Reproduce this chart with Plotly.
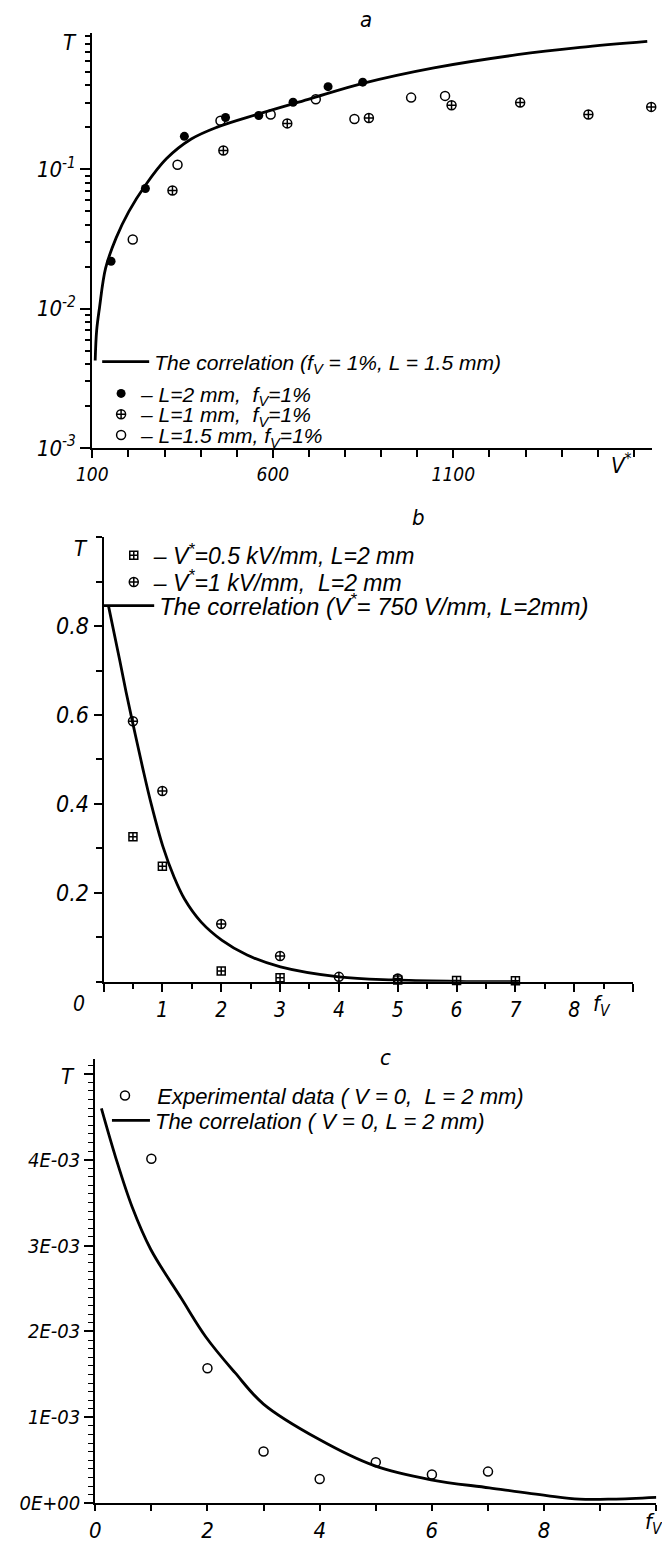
import plotly.graph_objects as go

W, H = 670, 1553
OFF = 8  # default body margin of the html page
FW, FH = W - OFF, H - OFF

# ---- panel a : T vs V* (log scale)
a_fill_v = [152, 247, 355, 469, 561, 656, 753, 849]
a_fill_t = [0.0219, 0.0728, 0.1725, 0.2355, 0.2437, 0.303, 0.392, 0.4226]
a_plus_v = [322, 463, 640, 866, 1095, 1285, 1474, 1648]
a_plus_t = [0.0705, 0.1365, 0.2137, 0.2333, 0.2884, 0.3013, 0.2477, 0.2806]
a_open_v = [212, 336, 455, 594, 719, 826, 983, 1077]
a_open_t = [0.0314, 0.108, 0.2234, 0.2477, 0.3185, 0.2296, 0.3273, 0.3366]
a_corr_v = [108, 112, 120, 137, 166, 201, 247, 305, 374, 444, 559, 698, 849, 1046, 1277, 1451, 1637]
a_corr_t = [0.00425, 0.00695, 0.0102, 0.0196, 0.0322, 0.0497, 0.0769, 0.119, 0.165, 0.2,
            0.249, 0.318, 0.414, 0.535, 0.665, 0.75, 0.828]

# ---- panel b : T vs f_V
b_sq_f = [0.5, 1, 2, 3, 5, 6, 7]
b_sq_t = [0.326, 0.26, 0.024, 0.009, 0.004, 0.003, 0.002]
b_plus_f = [0.5, 1, 2, 3, 4, 5]
b_plus_t = [0.586, 0.429, 0.13, 0.058, 0.011, 0.0075]
b_corr_f = [0.085, 0.277, 0.383, 0.525, 0.667, 0.81, 1.007, 1.2, 1.376, 1.66, 2.014, 2.44,
            3.007, 4.0, 4.92, 5.99, 7.05]
b_corr_t = [0.845, 0.722, 0.652, 0.565, 0.48, 0.40, 0.305, 0.235, 0.186, 0.134, 0.093, 0.06,
            0.0335, 0.011, 0.004, 0.001, 0.0]

# ---- panel c : T vs f_V, V = 0
c_exp_f = [1, 2, 3, 4, 5, 6, 7]
c_exp_t = [4.01e-3, 1.572e-3, 0.602e-3, 0.283e-3, 0.479e-3, 0.336e-3, 0.369e-3]
c_corr_f = [0.11, 0.366, 0.658, 0.988, 1.536, 1.975, 2.487, 2.999, 3.987, 4.974, 5.984,
            7.023, 8.047, 8.632, 9.217, 10.0]
c_corr_t = [4.595e-3, 4.021e-3, 3.448e-3, 2.957e-3, 2.383e-3, 1.933e-3, 1.523e-3, 1.155e-3,
            0.745e-3, 0.438e-3, 0.274e-3, 0.180e-3, 0.090e-3, 0.049e-3, 0.049e-3, 0.070e-3]

a_ticks = [0.001, 0.01, 0.1]
a_ticktext = ["10<sup>-3</sup>", "10<sup>-2</sup>", "10<sup>-1</sup>"]
a_minor = [k * 10 ** e for e in (-3, -2, -1) for k in range(2, 10)]
c_ticks = [0, 1e-3, 2e-3, 3e-3, 4e-3, 5e-3]
c_ticktext = ["0E+00", "1E-03", "2E-03", "3E-03", "4E-03", ""]

NARROW = "Liberation Sans Narrow, DejaVu Sans Condensed, Liberation Sans, sans-serif"
SANS = "Liberation Sans, DejaVu Sans, sans-serif"


def fx(px):
    return (px - OFF) / FW


def fy(py):
    return 1 - (py - OFF) / FH


def tfont(size, fam=NARROW):
    return dict(family=fam, size=size, color="black", style="italic")


fig = go.Figure()

line_kw = dict(color="black", width=2.8, shape="spline")
# panel a traces
fig.add_trace(go.Scatter(x=a_corr_v, y=a_corr_t, mode="lines", line=line_kw,
                         name="The correlation (f<sub>V</sub> = 1%, L = 1.5 mm)", legend="legend",
                         xaxis="x", yaxis="y"))
fig.add_trace(go.Scatter(x=a_fill_v, y=a_fill_t, mode="markers",
                         marker=dict(symbol="circle", size=9, color="black"),
                         name="– L=2 mm,  f<sub>V</sub>=1%", legend="legend4",
                         xaxis="x", yaxis="y", cliponaxis=False))
fig.add_trace(go.Scatter(x=a_plus_v, y=a_plus_t, mode="markers",
                         marker=dict(symbol="circle-cross-open", size=9, color="black", line=dict(width=1.5)),
                         name="– L=1 mm,  f<sub>V</sub>=1%", legend="legend5",
                         xaxis="x", yaxis="y", cliponaxis=False))
fig.add_trace(go.Scatter(x=a_open_v, y=a_open_t, mode="markers",
                         marker=dict(symbol="circle-open", size=9, color="black", line=dict(width=1.5)),
                         name="– L=1.5 mm, f<sub>V</sub>=1%", legend="legend6",
                         xaxis="x", yaxis="y", cliponaxis=False))

# panel b traces
fig.add_trace(go.Scatter(x=b_sq_f, y=b_sq_t, mode="markers",
                         marker=dict(symbol="square-cross-open", size=8, color="black", line=dict(width=1.5)),
                         name="– V<sup>*</sup>=0.5 kV/mm, L=2 mm", legend="legend2",
                         xaxis="x2", yaxis="y2", cliponaxis=False))
fig.add_trace(go.Scatter(x=b_plus_f, y=b_plus_t, mode="markers",
                         marker=dict(symbol="circle-cross-open", size=9, color="black", line=dict(width=1.5)),
                         name="– V<sup>*</sup>=1 kV/mm,  L=2 mm", legend="legend7",
                         xaxis="x2", yaxis="y2", cliponaxis=False))
fig.add_trace(go.Scatter(x=b_corr_f, y=b_corr_t, mode="lines", line=line_kw,
                         name="The correlation (V<sup>*</sup>= 750 V/mm, L=2mm)", legend="legend8",
                         xaxis="x2", yaxis="y2"))

# panel c traces
fig.add_trace(go.Scatter(x=c_exp_f, y=c_exp_t, mode="markers",
                         marker=dict(symbol="circle-open", size=9, color="black", line=dict(width=1.5)),
                         name="\u00a0\u00a0Experimental data ( V = 0,  L = 2 mm)", legend="legend3",
                         xaxis="x3", yaxis="y3", cliponaxis=False))
fig.add_trace(go.Scatter(x=c_corr_f, y=c_corr_t, mode="lines", line=line_kw,
                         name="The correlation ( V = 0, L = 2 mm)", legend="legend9",
                         xaxis="x3", yaxis="y3"))

axis_common = dict(showline=True, linecolor="black", linewidth=2, showgrid=False, zeroline=False,
                   tickcolor="black", tickwidth=1.5)


def leg(px, py, size, iw=30):
    return dict(x=fx(px), y=fy(py), xanchor="left", yanchor="middle", bgcolor="rgba(0,0,0,0)",
                font=tfont(size, SANS), itemwidth=iw, borderwidth=0)


fig.update_layout(
    width=FW, height=FH, margin=dict(l=0, r=0, t=0, b=0),
    paper_bgcolor="white", plot_bgcolor="white",
    xaxis=dict(axis_common, domain=[fx(78), fx(651.5)], range=[100, 1650], anchor="y",
               tickmode="array", tickvals=[100, 600, 1100], ticks="outside", ticklen=8,
               tickfont=tfont(19), minor=dict(dtick=100, tick0=100, ticks="outside", ticklen=7,
                                              tickcolor="black", tickwidth=1.5)),
    yaxis=dict(axis_common, domain=[fy(451.7), fy(33.3)], type="log", range=[-3, -0.022], anchor="x",
               tickmode="array", tickvals=a_ticks, ticktext=a_ticktext, ticks="outside", ticklen=10,
               tickfont=tfont(22), minor=dict(tickvals=a_minor, ticks="outside", ticklen=5,
                                              tickcolor="black", tickwidth=1.5)),
    xaxis2=dict(axis_common, domain=[fx(89.5), fx(632.2)], range=[0, 9], anchor="y2",
                tickmode="array", tickvals=list(range(10)),
                ticktext=["", "1", "2", "3", "4", "5", "6", "7", "8", ""],
                ticks="outside", ticklen=8, tickfont=tfont(21),
                minor=dict(dtick=0.5, ticks="outside", ticklen=5, tickcolor="black", tickwidth=1.5)),
    yaxis2=dict(axis_common, domain=[fy(990), fy(541.7)], range=[0, 1.0], anchor="x2",
                tickmode="array", tickvals=[0.2, 0.4, 0.6, 0.8], ticktext=["0.2", "0.4", "0.6", "0.8"],
                ticks="outside", ticklen=8, tickfont=tfont(23),
                minor=dict(dtick=0.1, ticks="outside", ticklen=6, tickcolor="black", tickwidth=1.5)),
    xaxis3=dict(axis_common, domain=[fx(81), fx(656)], range=[0, 10], anchor="y3",
                tickmode="array", tickvals=list(range(11)),
                ticktext=["0", "", "2", "", "4", "", "6", "", "8", "", ""],
                ticks="outside", ticklen=6, tickfont=tfont(22)),
    yaxis3=dict(axis_common, domain=[fy(1516), fy(1068)], range=[0, 5.17e-3], anchor="x3",
                tickmode="array", tickvals=c_ticks, ticktext=c_ticktext,
                ticks="outside", ticklen=9, tickfont=tfont(20),
                minor=dict(dtick=1e-4, ticks="outside", ticklen=5, tickcolor="black", tickwidth=1.2)),
    # one legend per row so every row sits where the reference has it
    legend=leg(83, 365, 21, 47),
    legend4=leg(87, 397, 21),
    legend5=leg(87, 418, 21),
    legend6=leg(87, 439, 21),
    legend2=leg(100, 560, 23),
    legend7=leg(100, 587, 23),
    legend8=leg(83, 611, 24, 52),
    legend3=leg(91, 1105, 22),
    legend9=leg(93, 1130, 22, 38),
    showlegend=True,
)

labels = [
    ("a", 358, 20, 22), ("b", 412, 522, 22), ("c", 378, 1066, 22),
    ("T", 55, 43, 22), ("T", 66, 553, 22), ("T", 53, 1086, 22),
    ("V<sup>*</sup>", 620, 468, 22), ("f<sub>V</sub>", 600, 1014, 22),
    ("0", 64, 1012, 21), ("f<sub>V</sub>", 654, 1536, 22),
]
for txt, px, py, sz in labels:
    fig.add_annotation(text=txt, x=fx(px), y=fy(py), xref="paper", yref="paper",
                       showarrow=False, xanchor="center", yanchor="middle", font=tfont(sz))

fig.write_html("out.html")
